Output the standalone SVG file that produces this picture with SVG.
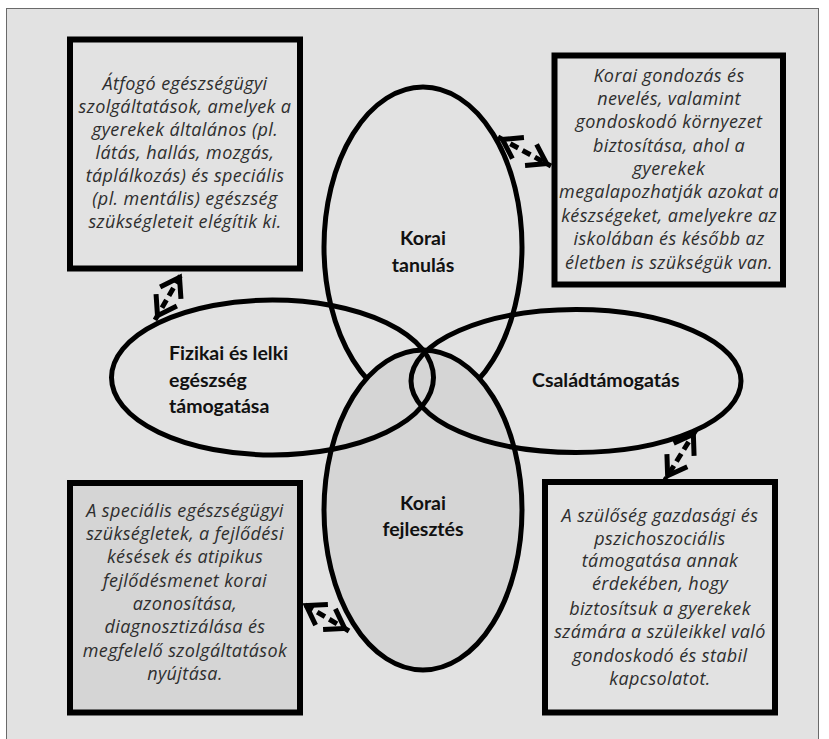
<svg xmlns="http://www.w3.org/2000/svg" width="829" height="739" viewBox="0 0 829 739">
<style>
.box{stroke:#000;stroke-width:6;fill:#e2e2e2}
.dark{fill:#d5d5d5}
.ell{stroke:#000;stroke-width:5;fill:none}
.bt{font-family:"Open Sans","Liberation Sans",sans-serif;font-style:italic;font-size:18px;letter-spacing:0.4px;fill:#2e2e2e;text-anchor:middle}
.lab{font-family:Lato,"Liberation Sans",sans-serif;font-weight:bold;font-size:19.5px;fill:#111}
.mid{text-anchor:middle}
.con{stroke:#000;stroke-width:5;fill:none;stroke-dasharray:9 5;marker-start:url(#ah);marker-end:url(#ah)}
</style>
<defs>
<marker id="ah" markerUnits="userSpaceOnUse" viewBox="-30 -18 36 36" markerWidth="36" markerHeight="36" refX="0" refY="0" orient="auto-start-reverse">
<path d="M-23,-12 L-5,0 L-23,12" fill="none" stroke="#000" stroke-width="5" stroke-dasharray="none"/>
</marker>
</defs>
<rect x="0" y="0" width="829" height="739" fill="#fff"/>
<rect x="6.5" y="8.5" width="812" height="740" fill="#e2e2e2" stroke="#6a6a6a" stroke-width="1"/>

<g id="box-tl">
<rect class="box" x="70" y="39.5" width="230" height="229"/>
<text class="bt" x="185" y="90">Átfogó egészségügyi</text>
<text class="bt" x="185" y="113">szolgáltatások, amelyek a</text>
<text class="bt" x="185" y="136">gyerekek általános (pl.</text>
<text class="bt" x="185" y="159">látás, hallás, mozgás,</text>
<text class="bt" x="185" y="182">táplálkozás) és speciális</text>
<text class="bt" x="185" y="205">(pl. mentális) egészség</text>
<text class="bt" x="185" y="228">szükségleteit elégítik ki.</text>
</g>

<g id="box-tr">
<rect class="box" x="554.5" y="55.5" width="228.5" height="229"/>
<text class="bt" x="669" y="82">Korai gondozás és</text>
<text class="bt" x="669" y="105">nevelés, valamint</text>
<text class="bt" x="669" y="128">gondoskodó környezet</text>
<text class="bt" x="669" y="152">biztosítása, ahol a</text>
<text class="bt" x="669" y="175">gyerekek</text>
<text class="bt" x="669" y="198">megalapozhatják azokat a</text>
<text class="bt" x="669" y="222">készségeket, amelyekre az</text>
<text class="bt" x="669" y="245">iskolában és később az</text>
<text class="bt" x="669" y="269">életben is szükségük van.</text>
</g>

<g id="box-bl">
<rect class="box dark" x="70" y="483" width="230" height="229.5"/>
<text class="bt" x="185" y="517">A speciális egészségügyi</text>
<text class="bt" x="185" y="540">szükségletek, a fejlődési</text>
<text class="bt" x="185" y="563">késések és atipikus</text>
<text class="bt" x="185" y="587">fejlődésmenet korai</text>
<text class="bt" x="185" y="610">azonosítása,</text>
<text class="bt" x="185" y="633">diagnosztizálása és</text>
<text class="bt" x="185" y="657">megfelelő szolgáltatások</text>
<text class="bt" x="185" y="680">nyújtása.</text>
</g>

<g id="box-br">
<rect class="box" x="545" y="482" width="230" height="230.5"/>
<text class="bt" x="660" y="522">A szülőség gazdasági és</text>
<text class="bt" x="660" y="545">pszichoszociális</text>
<text class="bt" x="660" y="567">támogatása annak</text>
<text class="bt" x="660" y="590">érdekében, hogy</text>
<text class="bt" x="660" y="615">biztosítsuk a gyerekek</text>
<text class="bt" x="660" y="638">számára a szüleikkel való</text>
<text class="bt" x="660" y="662">gondoskodó és stabil</text>
<text class="bt" x="660" y="685">kapcsolatot.</text>
</g>

<g id="ell-top">
<ellipse class="ell" cx="423" cy="247" rx="99" ry="160"/>
</g>
<g id="ell-bottom">
<ellipse class="ell" cx="423" cy="510" rx="99" ry="160" style="fill:#d5d5d5"/>
</g>
<g id="ell-left">
<ellipse class="ell" cx="272.5" cy="377.5" rx="161" ry="77.5"/>
</g>
<g id="ell-right">
<ellipse class="ell" cx="576" cy="381" rx="165" ry="71.5"/>
</g>

<g id="labels">
<text class="lab mid" x="423" y="245">Korai</text>
<text class="lab mid" x="423" y="272">tanulás</text>
<text class="lab" x="169" y="360">Fizikai és lelki</text>
<text class="lab" x="169" y="387">egészség</text>
<text class="lab" x="169" y="413">támogatása</text>
<text class="lab" x="532" y="387">Családtámogatás</text>
<text class="lab mid" x="423" y="510">Korai</text>
<text class="lab mid" x="423" y="536">fejlesztés</text>
</g>

<g id="connectors">
<path class="con" d="M155,320 L182,273"/>
<path class="con" d="M498,137 L551,166"/>
<path class="con" d="M696,430 L665,480"/>
<path class="con" d="M349,631 L302,603"/>
</g>
</svg>
